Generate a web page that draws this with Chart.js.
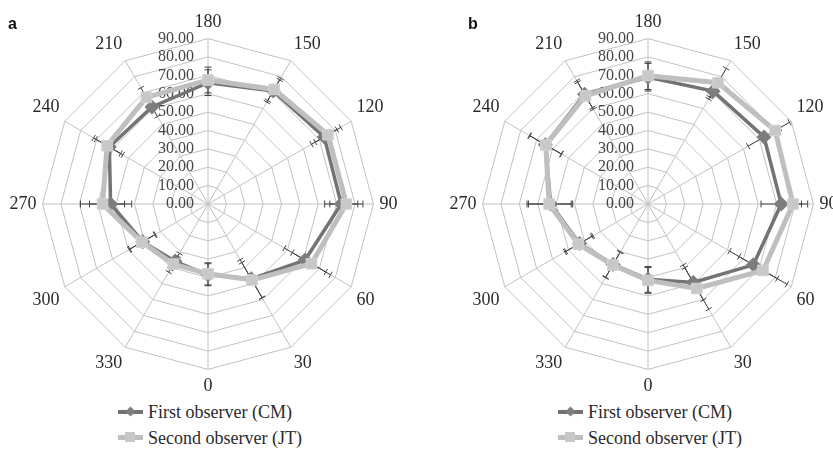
<!DOCTYPE html>
<html>
<head>
<meta charset="utf-8">
<script src="https://cdn.jsdelivr.net/npm/chart.js@4.4.1/dist/chart.umd.min.js"></script>
<style>
  body { margin: 0; width: 833px; height: 449px; overflow: hidden; background: #fff; position: relative; font-family: 'Liberation Serif', 'Times New Roman', serif; }
  .panel { position: absolute; top: 0; width: 414px; height: 449px; }
  .panel canvas { position: absolute; left: -3px; top: 12px; }
  .tag { position: absolute; top: 15px; left: 8px; font: bold 16px 'Liberation Sans', Arial, sans-serif; color: #111; }
  .legend { position: absolute; left: 118px; top: 400px; font-size: 18px; color: #2a2a2a; }
  .legend div { height: 26px; line-height: 24px; position: relative; padding-left: 30px; }
  .legend .ln { position: absolute; left: 0; top: 10px; width: 25px; height: 4px; }
  .legend .mk { position: absolute; }
</style>
</head>
<body>
<div class="panel" style="left:0">
  <canvas id="chartA" width="414" height="386"></canvas>
  <span class="tag">a</span>
  <div class="legend">
    <div><span class="ln" style="background:#737373"></span><span class="mk" style="left:9px;top:8px;width:7px;height:7px;background:#7d7d7d;transform:rotate(45deg)"></span>First observer (CM)</div>
    <div><span class="ln" style="background:#bfbfbf;height:5px;top:9px"></span><span class="mk" style="left:7px;top:6px;width:10px;height:10px;background:#c8c8c8"></span>Second observer (JT)</div>
  </div>
</div>
<div class="panel" style="left:440px">
  <canvas id="chartB" width="414" height="386"></canvas>
  <span class="tag" style="left:28px">b</span>
  <div class="legend">
    <div><span class="ln" style="background:#737373"></span><span class="mk" style="left:9px;top:8px;width:7px;height:7px;background:#7d7d7d;transform:rotate(45deg)"></span>First observer (CM)</div>
    <div><span class="ln" style="background:#bfbfbf;height:5px;top:9px"></span><span class="mk" style="left:7px;top:6px;width:10px;height:10px;background:#c8c8c8"></span>Second observer (JT)</div>
  </div>
</div>
<script>
// angles, clockwise from the top
const angles = ['180', '150', '120', '90', '60', '30', '0', '330', '300', '270', '240', '210'];
const tickValues = [0, 10, 20, 30, 40, 50, 60, 70, 80, 90];

// panel a
const firstA = [66, 71, 73, 72.5, 61, 47, 38.5, 36, 41, 53, 62, 61];
const firstAErr = [7, 7, 8, 9, 13, 12, 6, 5, 8, 11.5, 8.5, 6];
const secondA = [67.5, 72, 75.4, 75.3, 65, 47.8, 38, 37.8, 41.5, 57.4, 63.4, 67];
const secondAErr = [7, 7, 8, 9, 12, 11, 6, 5, 8, 12, 8.5, 6];

// panel b
const firstB = [69, 70.9, 72.9, 72.5, 66.2, 49.3, 41, 38, 43, 53, 64.5, 69];
const firstBErr = [7.5, 5, 10, 11, 15, 11, 7, 8, 8.5, 12, 10, 8.5];
const secondB = [69.8, 76.2, 79.9, 78.9, 72.3, 53.1, 41.6, 38.3, 43.7, 53.8, 64.2, 68];
const secondBErr = [7.5, 9, 9, 8, 15, 13, 7, 8, 8.5, 12, 10, 8.5];

const serif = 'Liberation Serif';

// value labels sit left of the vertical axis, like the original
const tickText = {
  id: 'tickText',
  beforeDatasetsDraw(chart) {
    const r = chart.scales.r, ctx = chart.ctx;
    ctx.save();
    ctx.font = '16px ' + serif;
    ctx.fillStyle = '#444';
    ctx.textAlign = 'right';
    ctx.textBaseline = 'middle';
    tickValues.forEach(v => {
      ctx.fillText(v.toFixed(2), r.xCenter - 14, r.yCenter - r.getDistanceFromCenterForValue(v));
    });
    ctx.restore();
  }
};

const errorBars = {
  id: 'errorBars',
  beforeDatasetsDraw(chart) {
    const r = chart.scales.r, ctx = chart.ctx;
    ctx.save();
    ctx.strokeStyle = '#444';
    ctx.lineWidth = 1;
    chart.data.datasets.forEach(ds => {
      ds.errors.forEach((e, i) => {
        const v = ds.data[i];
        const lo = r.getPointPositionForValue(i, v - e);
        const hi = r.getPointPositionForValue(i, v + e);
        const ang = r.getIndexAngle(i) - Math.PI / 2;
        const px = -Math.sin(ang) * 3.5, py = Math.cos(ang) * 3.5;
        ctx.beginPath();
        ctx.moveTo(lo.x, lo.y);
        ctx.lineTo(hi.x, hi.y);
        [lo, hi].forEach(p => {
          ctx.moveTo(p.x - px, p.y - py);
          ctx.lineTo(p.x + px, p.y + py);
        });
        ctx.stroke();
      });
    });
    ctx.restore();
  }
};

function makeChart(id, first, firstErr, second, secondErr) {
  return new Chart(document.getElementById(id), {
    type: 'radar',
    data: {
      labels: angles,
      datasets: [
        {
          label: 'First observer (CM)',
          data: first, errors: firstErr,
          borderColor: '#737373', borderWidth: 3.5,
          pointStyle: 'rectRot', pointRadius: 5,
          pointBackgroundColor: '#7d7d7d', pointBorderColor: '#7d7d7d',
          fill: false, order: 1
        },
        {
          label: 'Second observer (JT)',
          data: second, errors: secondErr,
          borderColor: '#bfbfbf', borderWidth: 5,
          pointStyle: 'rect', pointRadius: 7.5,
          pointBackgroundColor: '#c8c8c8', pointBorderColor: '#d2d2d2', pointBorderWidth: 1,
          fill: false, order: 0
        }
      ]
    },
    options: {
      responsive: false,
      animation: false,
      plugins: { legend: { display: false }, tooltip: { enabled: false } },
      scales: {
        r: {
          min: 0, max: 90,
          ticks: { stepSize: 10, display: false },
          grid: { color: '#c2c2c2', lineWidth: 1 },
          angleLines: { color: '#c2c2c2', lineWidth: 1 },
          pointLabels: { font: { family: serif, size: 18 }, color: '#2a2a2a', padding: 6 }
        }
      }
    },
    plugins: [tickText, errorBars]
  });
}

makeChart('chartA', firstA, firstAErr, secondA, secondAErr);
makeChart('chartB', firstB, firstBErr, secondB, secondBErr);
</script>
</body>
</html>
